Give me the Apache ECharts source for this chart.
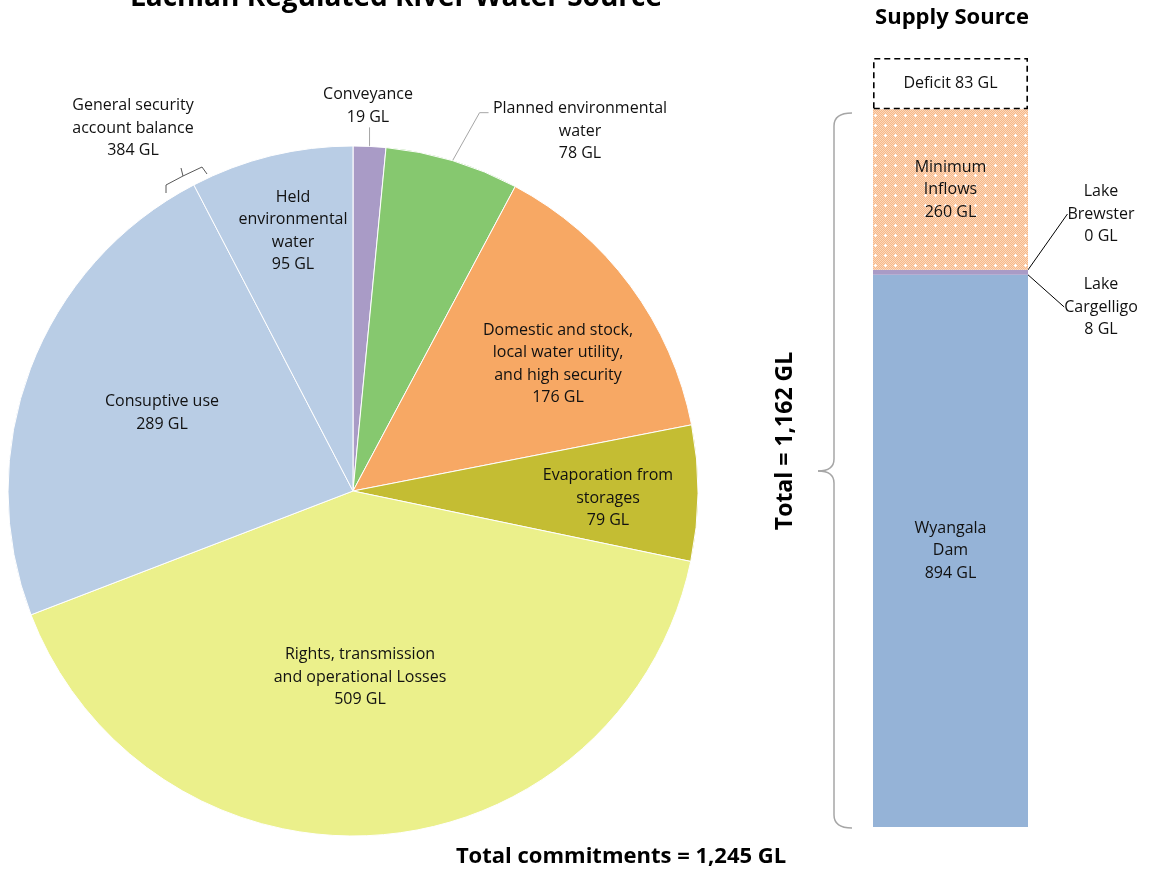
<!DOCTYPE html>
<html>
<head>
<meta charset="utf-8">
<script src="https://cdn.jsdelivr.net/npm/echarts@6/dist/echarts.min.js"></script>
<style>
html,body{margin:0;padding:0;background:#fff;}
#chart{width:1159px;height:873px;}
</style>
</head>
<body>
<div id="chart"></div>
<script>
// ---- data ----
const pieCategories = ['Conveyance', 'Planned environmental\nwater', 'Domestic and stock,\nlocal water utility,\nand high security', 'Evaporation from\nstorages', 'Rights, transmission\nand operational Losses', 'Consuptive use', 'Held\nenvironmental\nwater'];
const pieValues = [19, 78, 176, 79, 509, 289, 95];
const barCategories = ['Wyangala\nDam', 'Lake\nCargelligo', 'Lake\nBrewster', 'Minimum\nInflows', 'Deficit'];
const barValues = [894, 8, 0, 260, 83];
const gsabLabel = 'General security\naccount balance\n384 GL';
const titleText = 'Lachlan Regulated River Water Source';
const supplyTitle = 'Supply Source';
const totalCommitText = 'Total commitments = 1,245 GL';
const totalSupplyText = 'Total = 1,162 GL';

// ---- styles / layout ----
const FONT = 'Open Sans';
const LABEL_SIZE = 16;
const LINE_H = 22.5;
const TEXT_COLOR = '#111';
const pieColors = ['#a99bc6', '#86c86f', '#f7a864', '#c4bd33', '#ebf08b', '#b9cde5', '#b9cde5'];
const PIE_CX = 353, PIE_CY = 491, PIE_R = 345;
// label placement for each pie slice: [x, y] of label centre
const pieLabelPos = [[368, 106], [580, 131], [558, 364], [608, 498], [360, 677], [162, 413], [293, 231]];

function makePattern() {
  const c = document.createElement('canvas');
  c.width = 10; c.height = 10;
  const g = c.getContext('2d');
  g.fillStyle = '#f7b888';
  g.fillRect(0, 0, 10, 10);
  g.fillStyle = '#fcd8bc';
  for (let y = 0; y < 10; y++) for (let x = 0; x < 10; x++) if ((x + y) % 2 === 0) g.fillRect(x, y, 1, 1);
  g.fillStyle = '#ffffff';
  g.fillRect(4, 5, 3, 1);
  g.fillRect(5, 4, 1, 3);
  return c;
}

const barColors = ['#95b3d7', '#a99bc6', '#a99bc6', {image: makePattern(), repeat: 'repeat'}, '#ffffff'];

const chart = echarts.init(document.getElementById('chart'));

const total = pieValues.reduce((a, b) => a + b, 0);
function midAngle(i) {
  let s = 0;
  for (let k = 0; k < i; k++) s += pieValues[k];
  return (s + pieValues[i] / 2) / total * 2 * Math.PI;
}
function edgePoint(i) {
  const a = midAngle(i);
  return [PIE_CX + PIE_R * Math.sin(a), PIE_CY - PIE_R * Math.cos(a)];
}

const pieData = pieCategories.map((n, i) => {
  const d = {name: n, value: pieValues[i], itemStyle: {color: pieColors[i]}};
  if (i <= 1) {
    d.label = {position: 'outside'};
    d.labelLine = {show: true, lineStyle: {color: '#a6a6a6', width: 1}};
  }
  return d;
});

const barSeries = barCategories.map((n, i) => {
  const s = {
    type: 'bar',
    name: n.replace('\n', ' '),
    stack: 'supply',
    data: [barValues[i]],
    barWidth: '100%',
    itemStyle: {color: barColors[i]},
    label: {
      show: true,
      position: 'inside',
      color: TEXT_COLOR,
      fontFamily: FONT,
      fontSize: LABEL_SIZE,
      lineHeight: LINE_H,
      formatter: (i === 4 ? 'Deficit ' + barValues[i] + ' GL' : n + '\n' + barValues[i] + ' GL')
    },
    silent: true
  };
  if (i === 4) {
    s.itemStyle = {color: '#ffffff', borderColor: '#000', borderType: [6, 4], borderWidth: 1.6};
  }
  if (i === 1 || i === 2) {
    s.label.position = 'right';
    s.labelLine = {show: true, lineStyle: {color: '#000', width: 1}};
    s.labelLayout = function (p) {
      const bx = p.rect.x + p.rect.width;
      const by = i === 1 ? p.rect.y + p.rect.height / 2 : p.rect.y;
      const ly = i === 1 ? 307 : 214;
      return {
        x: 1101, y: ly, align: 'center', verticalAlign: 'middle',
        labelLinePoints: [[bx, by], [bx + 25, ly], [bx + 32, ly]]
      };
    };
  }
  return s;
});

const braceStyle = {fill: 'none', stroke: '#a6a6a6', lineWidth: 1.5};
const option = {
  animation: false,
  backgroundColor: '#ffffff',
  grid: {left: 873, width: 155, top: 58, bottom: 46, containLabel: false},
  xAxis: {type: 'category', data: ['Supply'], show: false},
  yAxis: {type: 'value', min: 0, max: total, show: false},
  series: [
    {
      type: 'pie',
      center: [PIE_CX, PIE_CY],
      radius: PIE_R,
      startAngle: 90,
      clockwise: true,
      silent: true,
      data: pieData,
      itemStyle: {borderColor: '#ffffff', borderWidth: 1},
      label: {
        show: true,
        position: 'inside',
        color: TEXT_COLOR,
        fontFamily: FONT,
        fontSize: LABEL_SIZE,
        lineHeight: LINE_H,
        formatter: p => p.name + '\n' + p.value + ' GL'
      },
      labelLine: {show: false},
      labelLayout: function (p) {
        const i = p.dataIndex;
        const pos = pieLabelPos[i];
        const r = {x: pos[0], y: pos[1], align: 'center', verticalAlign: 'middle'};
        if (i === 0) {
          const e = edgePoint(0);
          r.labelLinePoints = [e, [e[0], e[1] - 19], [e[0], e[1] - 19]];
        } else if (i === 1) {
          const e = edgePoint(1);
          r.labelLinePoints = [e, [e[0] + 27, e[1] - 48], [e[0] + 36, e[1] - 48]];
        }
        return r;
      }
    }
  ].concat(barSeries),
  graphic: [
    {type: 'text', x: 396, y: -2, style: {text: titleText, fontFamily: FONT, fontWeight: 'bold', fontSize: 28, fill: '#000', textAlign: 'center', textVerticalAlign: 'middle'}},
    {type: 'text', x: 952, y: 18, style: {text: supplyTitle, fontFamily: FONT, fontWeight: 'bold', fontSize: 22, fill: '#000', textAlign: 'center', textVerticalAlign: 'middle'}},
    {type: 'text', x: 621, y: 857, style: {text: totalCommitText, fontFamily: FONT, fontWeight: 'bold', fontSize: 22, fill: '#000', textAlign: 'center', textVerticalAlign: 'middle'}},
    {type: 'text', x: 785, y: 441, rotation: Math.PI / 2, style: {text: totalSupplyText, fontFamily: FONT, fontWeight: 'bold', fontSize: 23, fill: '#000', textAlign: 'center', textVerticalAlign: 'middle'}},
    {type: 'text', x: 133, y: 128, style: {text: gsabLabel, fontFamily: FONT, fontSize: LABEL_SIZE, lineHeight: LINE_H, fill: TEXT_COLOR, textAlign: 'center', textVerticalAlign: 'middle'}},
    {type: 'bezierCurve', shape: {x1: 852, y1: 113, cpx1: 834, cpy1: 113, x2: 834, y2: 126}, style: braceStyle},
    {type: 'line', shape: {x1: 834, y1: 126, x2: 834, y2: 459}, style: braceStyle},
    {type: 'bezierCurve', shape: {x1: 834, y1: 459, cpx1: 834, cpy1: 471, x2: 818, y2: 471}, style: braceStyle},
    {type: 'bezierCurve', shape: {x1: 818, y1: 471, cpx1: 834, cpy1: 471, x2: 834, y2: 483}, style: braceStyle},
    {type: 'line', shape: {x1: 834, y1: 483, x2: 834, y2: 815}, style: braceStyle},
    {type: 'bezierCurve', shape: {x1: 834, y1: 815, cpx1: 834, cpy1: 828, x2: 852, y2: 828}, style: braceStyle},
    {type: 'polyline', shape: {points: [[166, 193], [166, 185], [183, 176], [202, 167], [207, 174]]}, style: {fill: 'none', stroke: '#595959', lineWidth: 1}},
    {type: 'line', shape: {x1: 183, y1: 176, x2: 181, y2: 168}, style: {stroke: '#595959', lineWidth: 1}}
  ]
};
chart.setOption(option);
</script>
</body>
</html>
